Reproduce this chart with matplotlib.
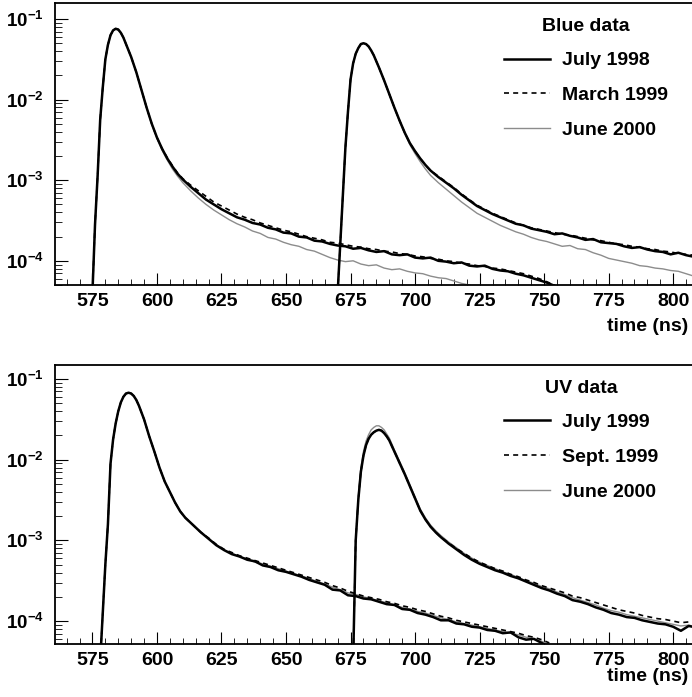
import numpy as np
import matplotlib
matplotlib.use("Agg")
import matplotlib.pyplot as plt
from matplotlib.ticker import FixedLocator, LogLocator, MultipleLocator, NullFormatter

plt.rcParams['font.family'] = ['Liberation Sans', 'DejaVu Sans']
plt.rcParams['font.weight'] = 'bold'

# ---- data (log10 of amplitude) ----
# Blue panel, first pulse
blue_xa = np.r_[np.arange(575, 589), np.arange(590, 611, 2), np.arange(613, 755, 3)]
blue_jul98_a = [-4.4, -3.55, -2.95, -2.25, -1.85, -1.5, -1.32, -1.2, -1.14, -1.12, -1.13, -1.17, -1.23, -1.31,
                -1.47, -1.66, -1.88, -2.1, -2.3, -2.47, -2.61, -2.73, -2.83, -2.92, -2.99,
                -3.08, -3.16, -3.24, -3.30, -3.36, -3.41, -3.46, -3.49, -3.53, -3.55,
                -3.59, -3.61, -3.65, -3.66, -3.70, -3.71, -3.75, -3.76, -3.79, -3.81,
                -3.82, -3.85, -3.84, -3.87, -3.89, -3.88, -3.92, -3.93, -3.92, -3.96,
                -3.97, -3.96, -4.00, -4.01, -4.03, -4.02, -4.06, -4.07, -4.06, -4.10,
                -4.12, -4.13, -4.16, -4.18, -4.21, -4.24, -4.27, -4.31]
blue_mar99_a = [-4.4, -3.55, -2.95, -2.25, -1.85, -1.5, -1.32, -1.2, -1.14, -1.12, -1.13, -1.17, -1.23, -1.31,
                -1.47, -1.66, -1.88, -2.1, -2.3, -2.47, -2.61, -2.72, -2.82, -2.91, -2.98,
                -3.06, -3.13, -3.20, -3.27, -3.32, -3.37, -3.42, -3.46, -3.49, -3.53,
                -3.56, -3.59, -3.62, -3.64, -3.67, -3.70, -3.72, -3.74, -3.77, -3.78,
                -3.80, -3.82, -3.83, -3.85, -3.86, -3.88, -3.89, -3.91, -3.92, -3.94,
                -3.95, -3.97, -3.98, -4.00, -4.01, -4.03, -4.04, -4.06, -4.07, -4.09,
                -4.10, -4.12, -4.14, -4.16, -4.19, -4.22, -4.26, -4.30]
blue_jun00_a = [-4.4, -3.55, -2.95, -2.25, -1.85, -1.5, -1.32, -1.2, -1.14, -1.12, -1.13, -1.17, -1.23, -1.31,
                -1.47, -1.66, -1.88, -2.1, -2.31, -2.48, -2.63, -2.75, -2.86, -2.95, -3.03,
                -3.13, -3.22, -3.30, -3.37, -3.43, -3.49, -3.54, -3.58, -3.63, -3.66,
                -3.71, -3.73, -3.77, -3.80, -3.82, -3.86, -3.88, -3.92, -3.96, -3.99,
                -4.01, -4.00, -4.04, -4.06, -4.05, -4.09, -4.11, -4.10, -4.13, -4.15,
                -4.16, -4.19, -4.21, -4.22, -4.25, -4.28, -4.30, -4.33, -4.36, -4.38,
                -4.41, -4.43, -4.46, -4.48, -4.51, -4.53, -4.56, -4.58]

# Blue panel, second pulse
blue_xb = np.r_[np.arange(670, 685), np.arange(686, 707, 2), np.arange(709, 812, 3)]
blue_jul98_b = [-4.4, -3.8, -3.2, -2.6, -2.15, -1.75, -1.55, -1.43, -1.36, -1.31, -1.30, -1.31, -1.34, -1.39, -1.45,
                -1.60, -1.76, -1.93, -2.1, -2.26, -2.41, -2.54, -2.64, -2.73, -2.81, -2.88,
                -2.96, -3.03, -3.10, -3.18, -3.25, -3.32, -3.37, -3.42, -3.46, -3.50,
                -3.54, -3.56, -3.60, -3.62, -3.64, -3.67, -3.66, -3.69, -3.71, -3.74,
                -3.73, -3.77, -3.78, -3.79, -3.82, -3.84, -3.83, -3.86, -3.88, -3.89,
                -3.92, -3.90, -3.93, -3.95, -3.96]
blue_mar99_b = [-4.4, -3.8, -3.2, -2.6, -2.15, -1.75, -1.55, -1.43, -1.36, -1.31, -1.30, -1.31, -1.34, -1.39, -1.45,
                -1.60, -1.76, -1.93, -2.1, -2.26, -2.41, -2.54, -2.64, -2.73, -2.81, -2.88,
                -2.95, -3.02, -3.09, -3.17, -3.24, -3.31, -3.36, -3.41, -3.45, -3.49,
                -3.53, -3.56, -3.59, -3.61, -3.63, -3.65, -3.67, -3.68, -3.70, -3.72,
                -3.74, -3.75, -3.77, -3.79, -3.80, -3.82, -3.83, -3.85, -3.86, -3.88,
                -3.89, -3.91, -3.92, -3.93, -3.95]
blue_jun00_b = [-4.4, -3.8, -3.2, -2.6, -2.15, -1.75, -1.55, -1.43, -1.36, -1.31, -1.30, -1.31, -1.34, -1.39, -1.45,
                -1.60, -1.76, -1.93, -2.1, -2.27, -2.42, -2.56, -2.67, -2.77, -2.86, -2.94,
                -3.03, -3.11, -3.19, -3.27, -3.34, -3.41, -3.46, -3.51, -3.56, -3.60,
                -3.64, -3.67, -3.71, -3.74, -3.76, -3.79, -3.82, -3.81, -3.85, -3.86,
                -3.90, -3.93, -3.97, -3.99, -4.01, -4.03, -4.06, -4.07, -4.09, -4.10,
                -4.12, -4.13, -4.16, -4.19, -4.21]

# UV panel, first pulse
uv_xa = np.r_[np.arange(578, 594), np.arange(595, 618, 2), np.arange(620, 753, 3)]
uv_jul99_a = [-4.5, -3.9, -3.3, -2.8, -2.05, -1.75, -1.55, -1.40, -1.29, -1.22, -1.18, -1.17, -1.18, -1.21, -1.26, -1.33,
              -1.50, -1.71, -1.90, -2.10, -2.27, -2.40, -2.53, -2.64, -2.72, -2.78, -2.84, -2.90,
              -2.98, -3.06, -3.12, -3.17, -3.20, -3.24, -3.26, -3.31, -3.33, -3.37,
              -3.39, -3.42, -3.45, -3.49, -3.52, -3.55, -3.61, -3.62, -3.68, -3.69,
              -3.72, -3.73, -3.76, -3.79, -3.80, -3.85, -3.86, -3.90, -3.92, -3.95,
              -3.99, -3.99, -4.03, -4.04, -4.07, -4.08, -4.11, -4.12, -4.15, -4.14,
              -4.20, -4.23, -4.22, -4.27, -4.32]
uv_sep99_a = [-4.5, -3.9, -3.3, -2.8, -2.05, -1.75, -1.55, -1.40, -1.29, -1.22, -1.18, -1.17, -1.18, -1.21, -1.26, -1.33,
              -1.50, -1.71, -1.90, -2.10, -2.27, -2.40, -2.53, -2.64, -2.72, -2.78, -2.84, -2.90,
              -2.97, -3.05, -3.11, -3.15, -3.19, -3.22, -3.25, -3.28, -3.31, -3.34,
              -3.37, -3.40, -3.43, -3.46, -3.49, -3.52, -3.56, -3.59, -3.63, -3.66,
              -3.69, -3.71, -3.73, -3.76, -3.78, -3.81, -3.83, -3.86, -3.88, -3.91,
              -3.94, -3.96, -3.99, -4.01, -4.03, -4.05, -4.07, -4.09, -4.11, -4.13,
              -4.15, -4.18, -4.20, -4.23, -4.27]
uv_jun00_a = [-4.5, -3.9, -3.3, -2.8, -2.05, -1.75, -1.55, -1.40, -1.29, -1.22, -1.18, -1.17, -1.18, -1.21, -1.26, -1.33,
              -1.50, -1.71, -1.90, -2.10, -2.27, -2.40, -2.53, -2.64, -2.72, -2.78, -2.84, -2.90,
              -2.98, -3.05, -3.12, -3.16, -3.20, -3.23, -3.27, -3.29, -3.32, -3.35,
              -3.38, -3.41, -3.44, -3.47, -3.51, -3.54, -3.58, -3.61, -3.65, -3.67,
              -3.70, -3.72, -3.75, -3.77, -3.80, -3.83, -3.85, -3.88, -3.90, -3.93,
              -3.96, -3.98, -4.01, -4.03, -4.05, -4.07, -4.09, -4.11, -4.13, -4.15,
              -4.17, -4.20, -4.22, -4.25, -4.29]

# UV panel, second pulse
uv_xb = np.r_[np.arange(676, 691), np.arange(692, 711, 2), np.arange(713, 810, 3)]
uv_jul99_b = [-4.5, -3.0, -2.5, -2.15, -1.95, -1.82, -1.74, -1.69, -1.66, -1.64, -1.63, -1.64, -1.67, -1.71, -1.76,
              -1.90, -2.04, -2.18, -2.33, -2.48, -2.63, -2.74, -2.83, -2.90, -2.96,
              -3.04, -3.11, -3.18, -3.24, -3.29, -3.33, -3.37, -3.40, -3.44, -3.47,
              -3.51, -3.55, -3.59, -3.62, -3.66, -3.69, -3.74, -3.76, -3.79, -3.83,
              -3.86, -3.90, -3.92, -3.95, -3.96, -3.99, -4.01, -4.03, -4.04, -4.07,
              -4.12, -4.06, -4.08]
uv_sep99_b = [-4.5, -3.0, -2.5, -2.15, -1.95, -1.82, -1.74, -1.69, -1.66, -1.64, -1.63, -1.64, -1.67, -1.71, -1.76,
              -1.90, -2.04, -2.18, -2.33, -2.48, -2.63, -2.74, -2.83, -2.90, -2.96,
              -3.03, -3.10, -3.16, -3.22, -3.27, -3.31, -3.35, -3.38, -3.42, -3.45,
              -3.49, -3.52, -3.56, -3.59, -3.62, -3.65, -3.69, -3.71, -3.74, -3.77,
              -3.80, -3.83, -3.86, -3.88, -3.90, -3.93, -3.95, -3.97, -3.98, -4.00,
              -4.02, -4.01, -4.04]
uv_jun00_b = [-4.5, -3.0, -2.45, -2.1, -1.9, -1.77, -1.69, -1.63, -1.60, -1.58, -1.58, -1.60, -1.63, -1.68, -1.73,
              -1.88, -2.02, -2.16, -2.31, -2.46, -2.61, -2.72, -2.81, -2.88, -2.94,
              -3.02, -3.09, -3.16, -3.22, -3.27, -3.31, -3.35, -3.39, -3.42, -3.46,
              -3.50, -3.53, -3.57, -3.60, -3.64, -3.67, -3.71, -3.74, -3.77, -3.80,
              -3.84, -3.87, -3.89, -3.92, -3.94, -3.96, -3.98, -4.00, -4.02, -4.04,
              -4.06, -4.05, -4.07]

blue_labels = ['July 1998', 'March 1999', 'June 2000']
uv_labels = ['July 1999', 'Sept. 1999', 'June 2000']
xticks = [575, 600, 625, 650, 675, 700, 725, 750, 775, 800]
yticks = [1e-4, 1e-3, 1e-2, 1e-1]

# solid / dashed / grey styles, same order as labels
styles = [dict(color='black', lw=1.8, ls='-', zorder=3),
          dict(color='black', lw=1.2, ls=(0, (3, 2.5)), zorder=4),
          dict(color='#8c8c8c', lw=1.0, ls='-', zorder=2)]

fig = plt.figure(figsize=(6.92, 6.97), dpi=100)
ax1 = fig.add_axes([0.0795, 0.591, 0.925, 0.4046])
ax2 = fig.add_axes([0.0795, 0.076, 0.925, 0.4003])


def draw(ax, xa, xb, series_a, series_b, labels, title, ylim):
    handles = []
    for ya, yb, lab, st in zip(series_a, series_b, labels, styles):
        h, = ax.plot(xa, 10 ** np.array(ya), label=lab, **st)
        ax.plot(xb, 10 ** np.array(yb), **st)
        handles.append(h)
    ax.set_yscale('log')
    ax.set_xlim(560.5, 808.5)
    ax.set_ylim(*ylim)
    ax.xaxis.set_major_locator(FixedLocator(xticks))
    ax.xaxis.set_minor_locator(MultipleLocator(5))
    ax.yaxis.set_major_locator(FixedLocator(yticks))
    ax.yaxis.set_minor_locator(LogLocator(base=10, subs=np.arange(2, 10)))
    ax.yaxis.set_minor_formatter(NullFormatter())
    ax.tick_params(axis='both', which='both', direction='in', top=False, right=False)
    ax.tick_params(axis='x', which='major', length=9, width=0.8, labelsize=14, pad=6)
    ax.tick_params(axis='x', which='minor', length=4, width=0.6)
    ax.tick_params(axis='y', which='major', length=9, width=0.8, labelsize=13.5, pad=8)
    ax.tick_params(axis='y', which='minor', length=5, width=0.6)
    for s in ax.spines.values():
        s.set_linewidth(1.3)
    leg = ax.legend(handles=handles, title=title, loc='upper left',
                    bbox_to_anchor=(0.7017, 0.948), frameon=False, fontsize=14,
                    title_fontproperties={'weight': 'bold', 'size': 14},
                    handlelength=2.37, handletextpad=0.6, labelspacing=0.88,
                    borderpad=0, borderaxespad=0)
    return leg


draw(ax1, blue_xa, blue_xb,
     [blue_jul98_a, blue_mar99_a, blue_jun00_a],
     [blue_jul98_b, blue_mar99_b, blue_jun00_b],
     blue_labels, 'Blue data', (5.0e-5, 0.158))
draw(ax2, uv_xa, uv_xb,
     [uv_jul99_a, uv_sep99_a, uv_jun00_a],
     [uv_jul99_b, uv_sep99_b, uv_jun00_b],
     uv_labels, 'UV data', (5.2e-5, 0.149))

fig.text(0.994, 0.531, 'time (ns)', ha='right', va='center', fontsize=14)
fig.text(0.994, 0.029, 'time (ns)', ha='right', va='center', fontsize=14)

fig.savefig('out.png', dpi=100)
